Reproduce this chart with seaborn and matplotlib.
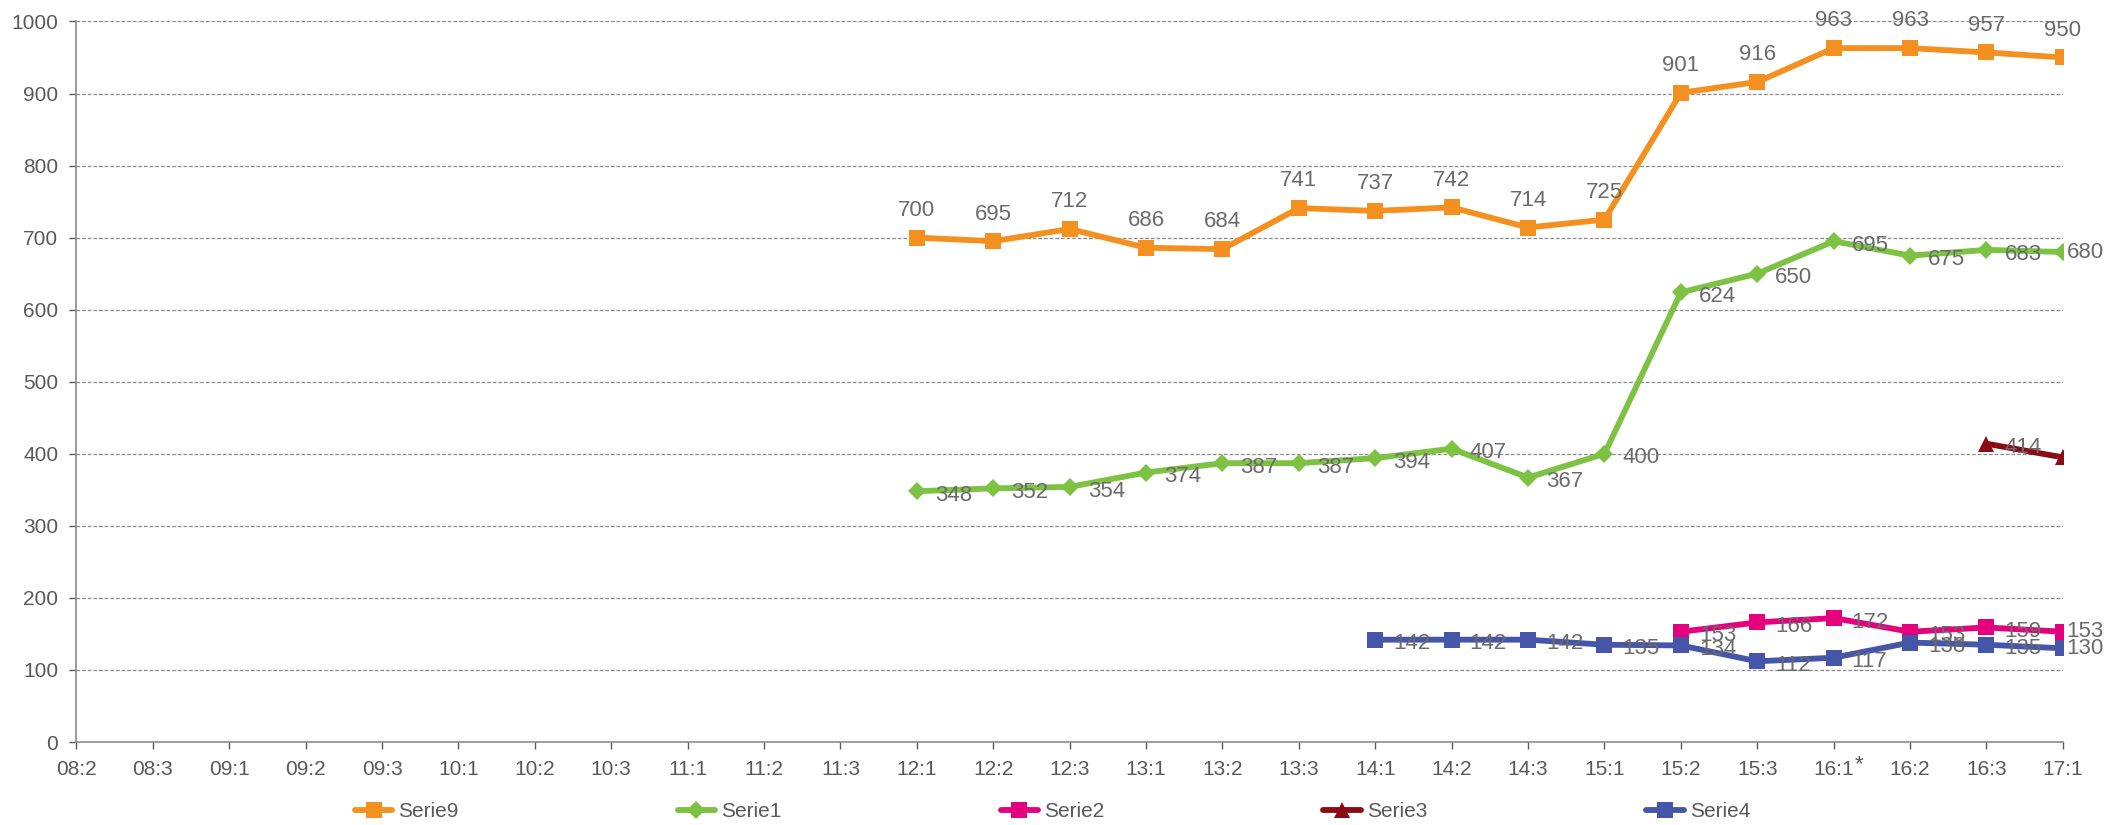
import matplotlib
matplotlib.use("Agg")
import matplotlib.pyplot as plt
import seaborn as sns
import pandas as pd

# x categories (quarter-hour slots)
categories = ["08:2", "08:3", "09:1", "09:2", "09:3", "10:1", "10:2", "10:3",
              "11:1", "11:2", "11:3", "12:1", "12:2", "12:3", "13:1", "13:2",
              "13:3", "14:1", "14:2", "14:3", "15:1", "15:2", "15:3", "16:1",
              "16:2", "16:3", "17:1"]

serie9_start = "12:1"
serie9 = [700, 695, 712, 686, 684, 741, 737, 742, 714, 725, 901, 916, 963, 963, 957, 950]
serie1_start = "12:1"
serie1 = [348, 352, 354, 374, 387, 387, 394, 407, 367, 400, 624, 650, 695, 675, 683, 680]
serie2_start = "15:2"
serie2 = [153, 166, 172, 153, 159, 153]
serie3_start = "16:3"
serie3 = [414, 395]
serie3_labels = ["414", ""]
serie4_start = "14:1"
serie4 = [142, 142, 142, 135, 134, 112, 117, 138, 135, 130]

label_color = "#6b6b6b"
tick_color = "#595959"


def to_frame(name, start, values):
    i0 = categories.index(start)
    return pd.DataFrame({"pos": list(range(i0, i0 + len(values))),
                         "value": values, "serie": name})


sns.set_theme(style="white")
plt.rcParams["font.family"] = ["Liberation Sans", "DejaVu Sans"]

fig = plt.figure(figsize=(21.05, 8.25), dpi=100)
ax = fig.add_axes([0.0363, 0.1006, 0.9437, 0.8734])

series = [
    ("Serie9", serie9_start, serie9, "#F39020", "s", 12, "above", None),
    ("Serie1", serie1_start, serie1, "#7DC242", "D", 9.5, "right", None),
    ("Serie2", serie2_start, serie2, "#E5007D", "s", 12, "right", None),
    ("Serie3", serie3_start, serie3, "#8B0A14", "^", 12, "right", serie3_labels),
    ("Serie4", serie4_start, serie4, "#4556A8", "s", 12, "right", None),
]

last = len(categories) - 1
for name, start, values, color, marker, ms, where, labels in series:
    df = to_frame(name, start, values)
    sns.lineplot(data=df, x="pos", y="value", ax=ax, color=color, marker=marker,
                 markersize=ms, markeredgewidth=0, linewidth=4.2, label=name)
    for k, (x, y) in enumerate(zip(df["pos"], df["value"])):
        txt = labels[k] if labels else str(y)
        if where == "above":
            ax.annotate(txt, (x, y), xytext=(0, 12), textcoords="offset points",
                        ha="center", va="bottom", fontsize=16, color=label_color)
        elif x == last:
            # pushed inside the figure edge, like the original
            ax.annotate(txt, (0.9995, y), xycoords=("figure fraction", "data"),
                        ha="right", va="center", fontsize=16, color=label_color)
        else:
            ax.annotate(txt, (x, y), xytext=(13, -3), textcoords="offset points",
                        ha="left", va="center", fontsize=16, color=label_color)

ax.set_xlim(0, last)
ax.set_ylim(0, 1000)
ax.set_xticks(range(len(categories)))
ax.set_xticklabels(categories)
ax.set_yticks(range(0, 1001, 100))
ax.set_xlabel("")
ax.set_ylabel("")
ax.tick_params(axis="both", colors=tick_color, labelsize=15, length=5,
               width=1, direction="out", bottom=True, left=True)
ax.tick_params(axis="y", pad=8)
ax.tick_params(axis="x", pad=8)

# asterisk next to 16:1
ax.annotate("*", (categories.index("16:1"), 0), xytext=(15, -16),
            textcoords="offset points", ha="left", va="center",
            fontsize=16, color=tick_color)

for y in range(100, 1001, 100):
    ax.axhline(y, color="#8c8c8c", linestyle=(0, (3, 1.5)), linewidth=0.9, zorder=0)

for side in ["top", "right"]:
    ax.spines[side].set_visible(False)
for side in ["left", "bottom"]:
    ax.spines[side].set_color("#8c8c8c")
    ax.spines[side].set_linewidth(1.2)

handles, lbls = ax.get_legend_handles_labels()
ax.get_legend().remove()
fig.legend(handles, lbls, loc="center", bbox_to_anchor=(0.5, 0.016), ncol=5,
           frameon=False, fontsize=15, handlelength=1.8, handletextpad=0.3,
           columnspacing=10.5, labelcolor=tick_color)

fig.savefig("out.png", dpi=100)
